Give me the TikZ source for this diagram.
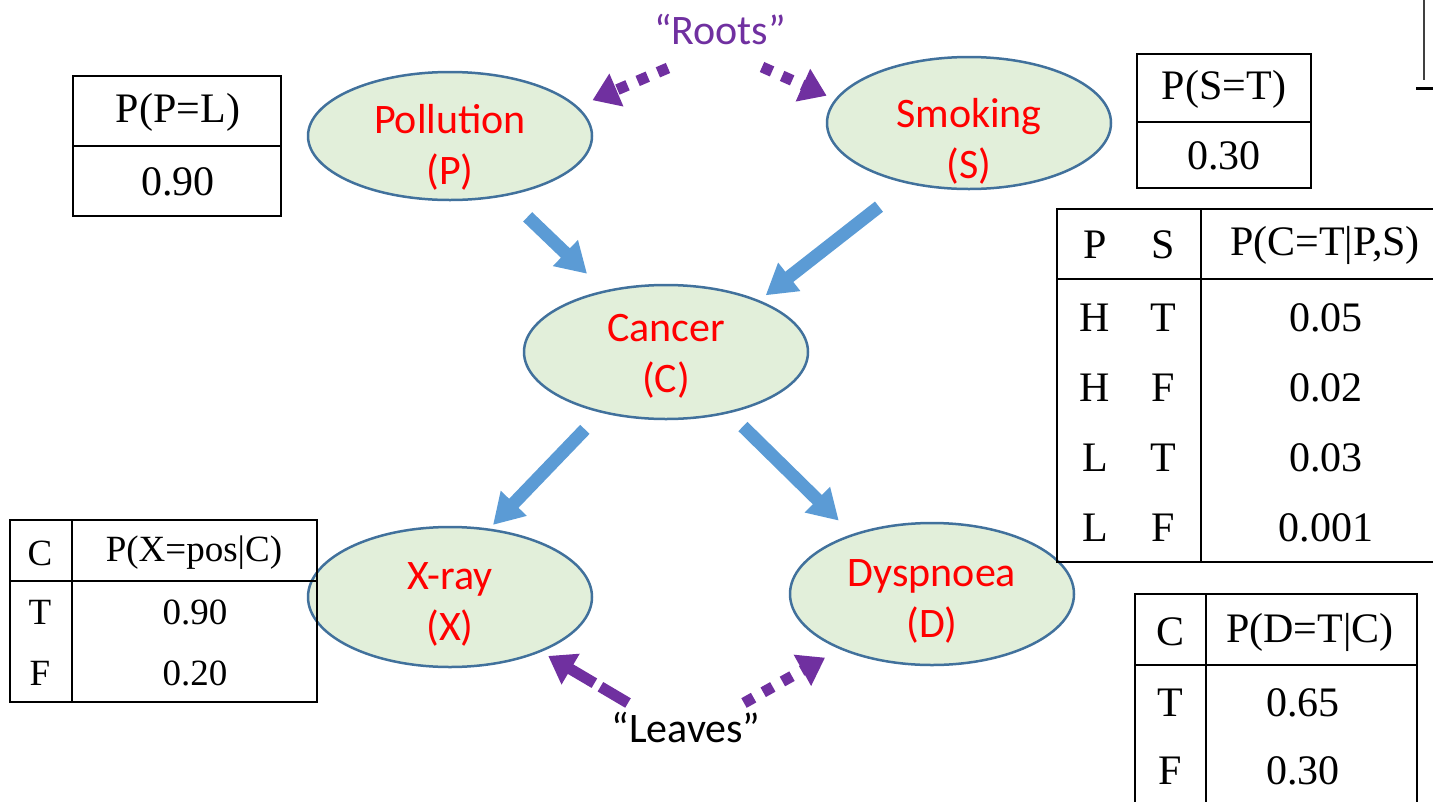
\documentclass[tikz,border=0pt]{standalone}
\usepackage{fontspec}
\setmainfont{Liberation Serif}
\newfontfamily\calib{Carlito}
\usetikzlibrary{arrows.meta,shapes.geometric}

\definecolor{varfill}{HTML}{E2EFDA}
\definecolor{varline}{HTML}{41719C}
\definecolor{linkblue}{HTML}{5B9BD5}
\definecolor{hintpurple}{HTML}{7030A0}

\tikzset{
  var/.style={ellipse,draw=varline,fill=varfill,line width=2.5pt,minimum width=284pt,inner sep=0pt},
  vtext/.style={text=red,font=\calib\fontsize{42}{51}\selectfont,align=center,inner sep=0pt},
  link/.style={linkblue,line width=13pt,-{Triangle[length=30pt,width=34pt]}},
  hint/.style={hintpurple,line width=11pt,dash pattern=on 11pt off 11pt,-{Triangle[length=26pt,width=34pt]}},
  hintlbl/.style={font=\calib\fontsize{42}{50}\selectfont,inner sep=0pt},
  cpt/.style={line width=1.5pt},
  tab/.style={font=\fontsize{42}{48}\selectfont,inner sep=0pt},
  tabs/.style={font=\fontsize{37}{42}\selectfont,inner sep=0pt}
}

\begin{document}
\begin{tikzpicture}[x=1pt,y=-1pt]
\useasboundingbox (0,0) rectangle (1433,801);

% the five variables
\node[var,minimum height=128pt,label={[vtext,yshift=-11pt]center:{Pollution\\(P)}}] (pol) at (450,136) {};
\node[var,minimum height=132pt,label={[vtext,yshift=-18pt]center:{Smoking\\(S)}}] (smo) at (969,123) {};
\node[var,minimum height=134pt,label={[vtext,yshift=-4pt]center:{Cancer\\(C)}}] (can) at (666,352) {};
\node[var,minimum height=140pt,label={[vtext,yshift=-7pt]center:{X-ray\\(X)}}] (xr) at (450,597) {};
\node[var,minimum height=142pt,label={[vtext,yshift=-7pt]center:{Dyspnoea\\(D)}}] (dys) at (932,594) {};

\draw[link,shorten <=30pt,shorten >=24pt] (pol.313) -- (can.135);
\draw[link,shorten <=37pt,shorten >=8pt] (smo.225) -- (can.29);
\draw[link,shorten <=23pt,shorten >=5pt] (can.223) -- (xr.60);
\draw[link,shorten <=19pt,shorten >=19pt] (can.316) -- (dys.143);

% roots and leaves
\node[hintlbl,text=hintpurple] (roots) at (720,30) {“Roots”};
\node[hintlbl] (leaves) at (686,727) {“Leaves”};
\coordinate (rootsL) at ([shift={(-52,38)}]roots.center);
\coordinate (rootsR) at ([shift={(42,37)}]roots.center);
\coordinate (leavesL) at ([shift={(-58,-24)}]leaves.center);
\coordinate (leavesR) at ([shift={(58,-24)}]leaves.center);
\draw[hint,shorten >=16pt] (rootsL) -- (pol.13);
\draw[hint,shorten >=9pt] (rootsR) -- (smo.170);
\draw[hint,dash pattern=on 32pt off 7pt,shorten >=8pt] (leavesL) -- (xr.329);
\draw[hint,shorten >=17pt] (leavesR) -- (dys.211);

% P(P)
\draw[cpt] (73,76) rectangle (281,216) (73,146) -- (281,146);
\node[tab] (pP) at (178,112) {P(P=L)};
\node[tab] (pPv) at (178,182) {0.90};

% P(S)
\draw[cpt] (1137,54) rectangle (1311,188) (1137,122) -- (1311,122);
\node[tab] (pS) at (1224,89) {P(S=T)};
\node[tab] (pSv) at (1224,156) {0.30};

% P(C|P,S)
\draw[cpt] (1057,209) rectangle (1445,562) (1057,279) -- (1445,279) (1201,209) -- (1201,562);
\node[tab] (cP) at (1095,245) {P};
\node[tab] (cS) at (1163,245) {S};
\node[tab] (cC) at (1325,245) {P(C=T|P,S)};
\foreach \p/\s/\v [count=\i] in {H/T/0.05,H/F/0.02,L/T/0.03,L/F/0.001}{
  \node[tab] (cP\i) at (1095,248+70*\i) {\p};
  \node[tab] (cS\i) at (1163,248+70*\i) {\s};
  \node[tab] (cV\i) at (1326,248+70*\i) {\v};
}

% P(X|C)
\draw[cpt] (10,520) rectangle (317,702) (10,581) -- (317,581) (72,520) -- (72,702);
\node[tabs] (xC) at (40,553) {C};
\node[tabs] (xX) at (194,553) {P(X=pos|C)};
\node[tabs] (xC1) at (40,612) {T};
\node[tabs] (xV1) at (195,612) {0.90};
\node[tabs] (xC2) at (40,673) {F};
\node[tabs] (xV2) at (195,673) {0.20};

% P(D|C)
\draw[cpt] (1135,810) -- (1135,594) -- (1417,594) -- (1417,810) (1135,665) -- (1417,665) (1206,594) -- (1206,810);
\node[tab] (dC) at (1170,632) {C};
\node[tab] (dD) at (1310,632) {P(D=T|C)};
\node[tab] (dC1) at (1170,703) {T};
\node[tab] (dV1) at (1303,703) {0.65};
\node[tab] (dC2) at (1170,771) {F};
\node[tab] (dV2) at (1303,771) {0.30};

% cut-off bits at the right edge
\draw[line width=2pt,black!75] (1424,0) -- (1424,80);
\draw[line width=3pt] (1416,88) -- (1433,88);
\end{tikzpicture}
\end{document}
